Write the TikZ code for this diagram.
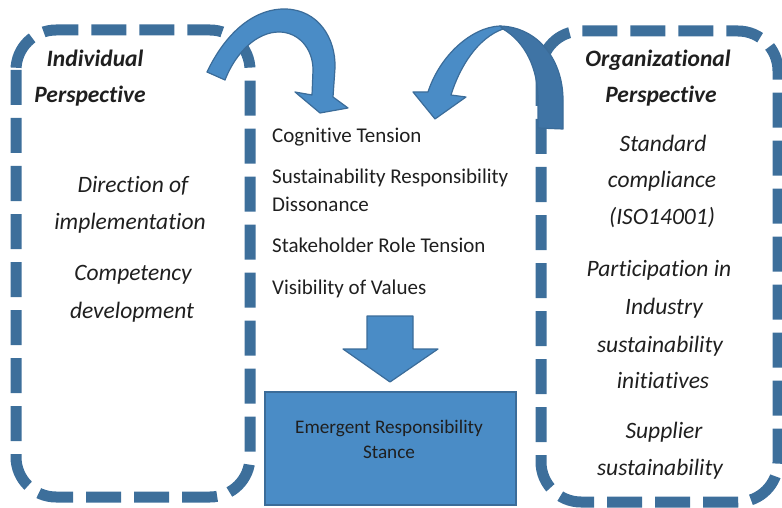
\documentclass[tikz,border=0pt]{standalone}
\usepackage{fontspec}
\setmainfont{Carlito}[Ligatures={NoCommon}]
\definecolor{dashblue}{HTML}{3D6F9B}
\definecolor{fillblue}{HTML}{4A8CC6}
\definecolor{edgeblue}{HTML}{3B6C99}
\definecolor{ribbonblue}{HTML}{3F74A5}
\definecolor{ink}{HTML}{1F1F1F}
\begin{document}
\begin{tikzpicture}[x=1bp,y=-1bp,
  txt/.style={text=ink, font=\fontsize{21bp}{25bp}\selectfont, inner sep=0pt},
  itxt/.style={txt, font=\fontsize{23.5bp}{27bp}\selectfont\itshape},
  htxt/.style={txt, font=\fontsize{23.5bp}{27bp}\selectfont\bfseries\itshape},
  dashbox/.style={draw=dashblue, line width=11bp, dash pattern=on 35bp off 13bp, rounded corners=40bp},
  shapefill/.style={fill=fillblue, draw=edgeblue, line width=1.2bp, line join=round}]
\useasboundingbox (0,0) rectangle (782,508);

% perspective frames
\draw[dashbox] (16,30) rectangle (250,497);
\draw[dashbox] (541,31) rectangle (778,502);

% curved arrow from the individual side
\path[shapefill] (207,72) .. controls (228,28) and (258,8) .. (286,9)
  .. controls (318,10) and (336,38) .. (335,68) -- (333,97) -- (348,108)
  -- (320,113) -- (295,92) -- (312,95) -- (313,70)
  .. controls (313,48) and (298,32) .. (279,32)
  .. controls (257,32) and (236,52) .. (225,80) -- cycle;

% curved ribbon arrow from the organizational side
\path[fill=ribbonblue, draw=edgeblue, line width=1.2bp, line join=round]
  (500,26) .. controls (538,27) and (563,60) .. (563,100) -- (563,129)
  -- (538,128) -- (538,100) .. controls (538,68) and (525,42) .. (503,29) -- cycle;
\path[shapefill] (500,26) .. controls (472,27) and (440,55) .. (428,92)
  -- (413,92) -- (435,119) -- (466,97) -- (451,95)
  .. controls (460,66) and (478,38) .. (503,29) -- cycle;

% downward arrow and result box
\path[shapefill] (367,316) -- (413,316) -- (413,349) -- (438,349)
  -- (390,382) -- (343,349) -- (367,349) -- cycle;
\node[fill=fillblue, draw=edgeblue, line width=1.5bp, minimum width=251bp,
  minimum height=113bp, anchor=north west, inner sep=0pt] (stance) at (264,391) {};
\node[txt, font=\fontsize{19.2bp}{23bp}\selectfont, anchor=base] (st1) at (389,433) {Emergent Responsibility};
\node[txt, font=\fontsize{19.2bp}{23bp}\selectfont, anchor=base] (st2) at (389,458) {Stance};

% individual perspective
\node[htxt, anchor=base] (ind1) at (95,67) {Individual};
\node[htxt, anchor=base] (ind2) at (90,103) {Perspective};
\node[itxt, anchor=base] (ind3) at (133,193) {Direction of};
\node[itxt, anchor=base] (ind4) at (130,230) {implementation};
\node[itxt, anchor=base] (ind5) at (133,281) {Competency};
\node[itxt, anchor=base] (ind6) at (132,318) {development};

% tensions
\node[txt, anchor=base west] (t1) at (272,143) {Cognitive Tension};
\node[txt, anchor=base west] (t2) at (272,184) {Sustainability Responsibility};
\node[txt, anchor=base west] (t3) at (272,212) {Dissonance};
\node[txt, anchor=base west] (t4) at (272,253) {Stakeholder Role Tension};
\node[txt, anchor=base west] (t5) at (272,295) {Visibility of Values};

% organizational perspective
\node[htxt, anchor=base] (org1) at (658,67) {Organizational};
\node[htxt, anchor=base] (org2) at (661,103) {Perspective};
\node[itxt, anchor=base] (org3) at (663,152) {Standard};
\node[itxt, anchor=base] (org4) at (662,188) {compliance};
\node[itxt, anchor=base] (org5) at (662,225) {(ISO14001)};
\node[itxt, anchor=base] (org6) at (659,277) {Participation in};
\node[itxt, anchor=base] (org7) at (664,314) {Industry};
\node[itxt, anchor=base] (org8) at (660,352) {sustainability};
\node[itxt, anchor=base] (org9) at (663,388) {initiatives};
\node[itxt, anchor=base] (org10) at (664,438) {Supplier};
\node[itxt, anchor=base] (org11) at (660,475) {sustainability};
\end{tikzpicture}
\end{document}
